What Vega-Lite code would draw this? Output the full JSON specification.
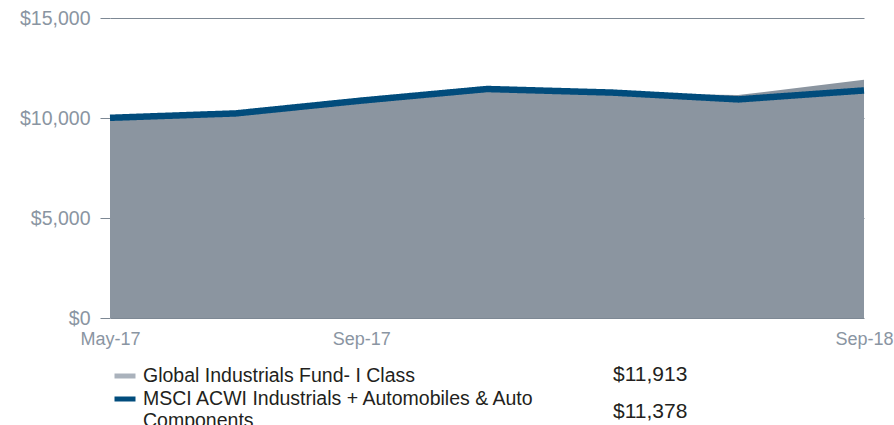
{
  "$schema": "https://vega.github.io/schema/vega-lite/v6.json",
  "width": 754,
  "height": 300,
  "autosize": "none",
  "padding": {"left": 110, "top": 18, "right": 30, "bottom": 107},
  "background": "white",
  "config": {
    "view": {"stroke": null},
    "font": "Liberation Sans"
  },
  "data": {
    "values": [
      {"date": "May-17", "series": "Global Industrials Fund- I Class", "value": 9950, "end": "$11,913"},
      {"date": "Jun-17", "series": "Global Industrials Fund- I Class", "value": 10170, "end": "$11,913"},
      {"date": "Sep-17", "series": "Global Industrials Fund- I Class", "value": 10840, "end": "$11,913"},
      {"date": "Dec-17", "series": "Global Industrials Fund- I Class", "value": 11400, "end": "$11,913"},
      {"date": "Mar-18", "series": "Global Industrials Fund- I Class", "value": 11220, "end": "$11,913"},
      {"date": "Jun-18", "series": "Global Industrials Fund- I Class", "value": 11150, "end": "$11,913"},
      {"date": "Sep-18", "series": "Global Industrials Fund- I Class", "value": 11913, "end": "$11,913"},
      {"date": "May-17", "series": "MSCI ACWI Industrials + Automobiles & Auto Components", "value": 10010, "end": "$11,378"},
      {"date": "Jun-17", "series": "MSCI ACWI Industrials + Automobiles & Auto Components", "value": 10230, "end": "$11,378"},
      {"date": "Sep-17", "series": "MSCI ACWI Industrials + Automobiles & Auto Components", "value": 10870, "end": "$11,378"},
      {"date": "Dec-17", "series": "MSCI ACWI Industrials + Automobiles & Auto Components", "value": 11450, "end": "$11,378"},
      {"date": "Mar-18", "series": "MSCI ACWI Industrials + Automobiles & Auto Components", "value": 11270, "end": "$11,378"},
      {"date": "Jun-18", "series": "MSCI ACWI Industrials + Automobiles & Auto Components", "value": 10930, "end": "$11,378"},
      {"date": "Sep-18", "series": "MSCI ACWI Industrials + Automobiles & Auto Components", "value": 11378, "end": "$11,378"}
    ]
  },
  "encoding": {
    "x": {
      "field": "date",
      "type": "ordinal",
      "sort": null,
      "scale": {"type": "point", "padding": 0},
      "axis": {
        "title": null,
        "values": ["May-17", "Sep-17", "Sep-18"],
        "labelAngle": 0,
        "ticks": false,
        "tickSize": 0,
        "domain": false,
        "grid": false,
        "labelPadding": 12,
        "labelFontSize": 18,
        "labelColor": "#8a95a2",
        "labelFont": "Liberation Sans",
        "labelOverlap": false,
        "labelFlush": false
      }
    },
    "y": {
      "field": "value",
      "type": "quantitative",
      "scale": {"domain": [0, 15000], "nice": false},
      "axis": {
        "title": null,
        "values": [0, 5000, 10000, 15000],
        "format": "$,.0f",
        "domain": false,
        "tickSize": 10,
        "tickColor": "#7d8894",
        "gridColor": "#7d8894",
        "gridOpacity": 1,
        "gridWidth": 1,
        "labelPadding": 10,
        "labelFontSize": 19.5,
        "labelColor": "#8a95a2",
        "labelFont": "Liberation Sans"
      }
    }
  },
  "layer": [
    {
      "transform": [{"filter": "datum.series == 'Global Industrials Fund- I Class'"}],
      "mark": {"type": "area", "color": "#8b95a0", "opacity": 1, "interpolate": "linear"}
    },
    {
      "transform": [{"filter": "datum.series != 'Global Industrials Fund- I Class'"}],
      "mark": {"type": "line", "strokeWidth": 6.5, "strokeJoin": "round", "strokeCap": "butt", "interpolate": "linear"},
      "encoding": {
        "color": {
          "field": "series",
          "type": "nominal",
          "scale": {
            "domain": ["Global Industrials Fund- I Class", "MSCI ACWI Industrials + Automobiles & Auto Components"],
            "range": ["#aab2bc", "#014c7c"]
          },
          "legend": {
            "title": null,
            "orient": "none",
            "legendX": 2,
            "legendY": 345,
            "direction": "vertical",
            "padding": 0,
            "symbolType": "stroke",
            "symbolSize": 441,
            "symbolStrokeWidth": 5,
            "labelOffset": 5,
            "labelFontSize": 19.5,
            "labelColor": "#231f20",
            "labelFont": "Liberation Sans",
            "labelLimit": 700,
            "labelLineHeight": 20,
            "rowPadding": -1,
            "labelExpr": "datum.label == 'MSCI ACWI Industrials + Automobiles & Auto Components' ? ['MSCI ACWI Industrials + Automobiles & Auto', 'Components'] : datum.label"
          }
        },
        "strokeDash": {
          "field": "end",
          "type": "nominal",
          "scale": {"domain": ["$11,913", "$11,378"], "range": [[1, 0], [1, 0]]},
          "legend": {
            "title": null,
            "orient": "none",
            "legendX": 482,
            "legendY": 346,
            "direction": "vertical",
            "padding": 0,
            "symbolType": "stroke",
            "symbolSize": 0,
            "symbolOpacity": 0,
            "symbolStrokeWidth": 0,
            "labelOffset": 0,
            "labelFontSize": 21,
            "labelColor": "#231f20",
            "labelFont": "Liberation Sans",
            "rowPadding": 15
          }
        }
      }
    }
  ]
}
